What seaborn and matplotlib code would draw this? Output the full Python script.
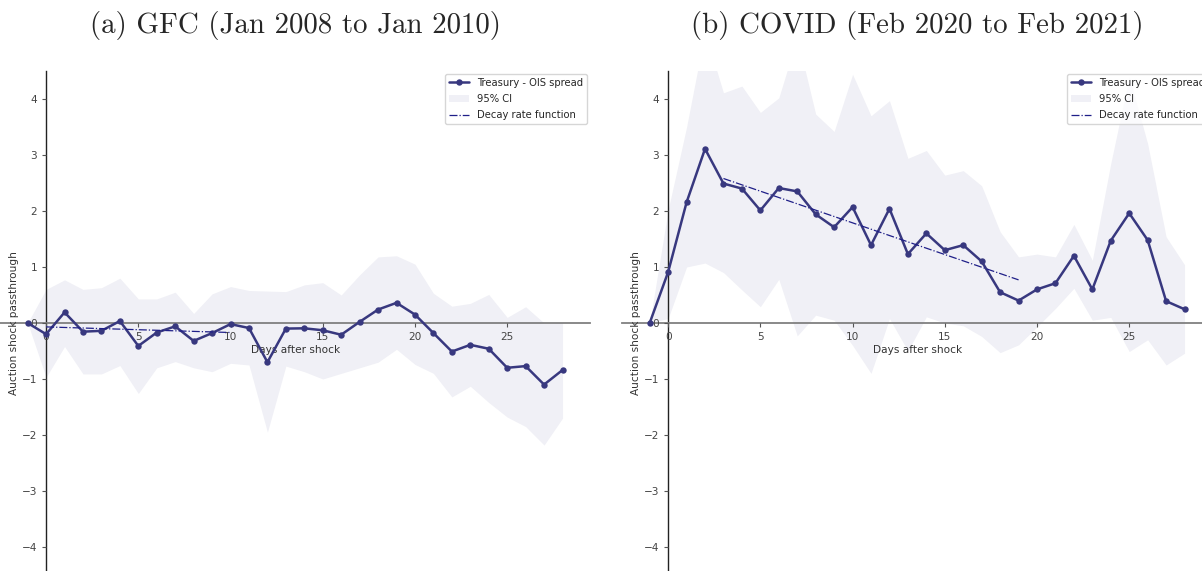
import matplotlib
matplotlib.use("Agg")
import matplotlib.pyplot as plt
import pandas as pd
import seaborn as sns

days = list(range(-1, 29))

gfc_est = [0, -0.20, 0.19, -0.155, -0.14, 0.035, -0.41, -0.17, -0.06, -0.32,
           -0.18, -0.02, -0.09, -0.70, -0.10, -0.095, -0.13, -0.21, 0.02, 0.24,
           0.36, 0.15, -0.18, -0.51, -0.39, -0.46, -0.80, -0.77, -1.10, -0.84]
gfc_upper = [0, 0.60, 0.77, 0.60, 0.63, 0.80, 0.43, 0.43, 0.55, 0.17,
             0.52, 0.65, 0.58, 0.57, 0.56, 0.68, 0.72, 0.50, 0.86, 1.18,
             1.20, 1.05, 0.53, 0.30, 0.35, 0.51, 0.10, 0.29, 0.0, 0.01]
gfc_lower = [0, -0.97, -0.42, -0.91, -0.91, -0.76, -1.26, -0.80, -0.69, -0.80,
             -0.87, -0.72, -0.75, -1.95, -0.77, -0.87, -1.00, -0.90, -0.80, -0.70,
             -0.47, -0.74, -0.90, -1.32, -1.13, -1.42, -1.68, -1.85, -2.18, -1.70]
gfc_decay_days = [0, 10]
gfc_decay_vals = [-0.07, -0.17]

covid_est = [0, 0.91, 2.155, 3.11, 2.49, 2.40, 2.01, 2.41, 2.35, 1.94,
             1.71, 2.07, 1.39, 2.04, 1.23, 1.60, 1.30, 1.39, 1.10, 0.55,
             0.40, 0.60, 0.71, 1.20, 0.60, 1.47, 1.96, 1.48, 0.39, 0.245]
covid_upper = [0, 2.02, 3.5, 5.2, 4.11, 4.23, 3.76, 4.02, 5.1, 3.73,
               3.42, 4.44, 3.70, 3.97, 2.94, 3.08, 2.64, 2.72, 2.45, 1.63,
               1.18, 1.23, 1.18, 1.76, 1.12, 2.85, 4.4, 3.2, 1.54, 1.04]
covid_lower = [0, 0.08, 1.0, 1.07, 0.90, 0.59, 0.29, 0.78, -0.23, 0.14,
               0.05, -0.40, -0.90, 0.08, -0.50, 0.11, 0.0, -0.05, -0.24, -0.53,
               -0.39, -0.07, 0.26, 0.62, 0.05, 0.10, -0.51, -0.30, -0.75, -0.54]
covid_decay_days = [3, 19]
covid_decay_vals = [2.58, 0.77]

titles = ["(a) GFC (Jan 2008 to Jan 2010)", "(b) COVID (Feb 2020 to Feb 2021)"]
xticks = [0, 5, 10, 15, 20, 25]
yticks = [-4, -3, -2, -1, 0, 1, 2, 3, 4]

sns.set_theme(style="ticks")
plt.rcParams['font.family'] = ['DejaVu Sans']

LINE = "#38387f"
FILL = "#f0f0f6"
DECAY = "#1f1f88"

fig = plt.figure(figsize=(12.02, 5.71), dpi=100)
axes = [fig.add_axes([0.0, -0.007, 0.491, 0.8827]),
        fig.add_axes([0.5175, -0.007, 0.491, 0.8827])]

panels = [(gfc_est, gfc_upper, gfc_lower, gfc_decay_days, gfc_decay_vals),
          (covid_est, covid_upper, covid_lower, covid_decay_days, covid_decay_vals)]

for ax, (est, up, lo, dd, dv), title in zip(axes, panels, titles):
    df = pd.DataFrame({"day": days, "est": est, "up": up, "lo": lo})
    dec = pd.DataFrame({"day": dd, "val": dv})
    ax.fill_between(df["day"], df["lo"], df["up"], color=FILL, lw=0,
                    label="95% CI", zorder=0.3)
    sns.lineplot(data=df, x="day", y="est", ax=ax, color=LINE, lw=1.8,
                 marker="o", markersize=4.6, markeredgewidth=0,
                 label="Treasury - OIS spread", zorder=3)
    sns.lineplot(data=dec, x="day", y="val", ax=ax, color=DECAY, lw=0.9,
                 linestyle="-.", label="Decay rate function", zorder=4)
    ax.set_axisbelow(False)
    ax.set_xlim(-2.5, 29.5)
    ax.set_ylim(-4.5, 4.5)
    ax.set_xticks(xticks)
    ax.set_yticks(yticks)
    ax.spines['left'].set_position(('data', 0))
    ax.spines['bottom'].set_position(('data', 0))
    ax.spines['top'].set_visible(False)
    ax.spines['right'].set_visible(False)
    ax.spines['left'].set_color('#222222')
    ax.spines['left'].set_linewidth(1.0)
    ax.spines['bottom'].set_color('#808080')
    ax.spines['bottom'].set_linewidth(1.3)
    ax.spines['left'].set_zorder(2)
    ax.spines['bottom'].set_zorder(2)
    ax.tick_params(labelsize=7.6, labelcolor='#444444', length=3, width=0.8, colors='#555555')
    ax.set_xlabel("Days after shock", fontsize=7.6, color='#333333', labelpad=2)
    ax.set_ylabel("Auction shock passthrough", fontsize=7.6, color='#333333')
    ax.yaxis.set_label_coords(0.032, 0.5)
    h, l = ax.get_legend_handles_labels()
    order = [l.index("Treasury - OIS spread"), l.index("95% CI"), l.index("Decay rate function")]
    leg = ax.legend([h[i] for i in order], [l[i] for i in order], loc="upper right",
                    fontsize=7.2, frameon=True, borderaxespad=0.3, labelspacing=0.62,
                    handlelength=2.0)
    leg.set_zorder(5)
    bb = ax.get_position()
    fig.text((bb.x0 + bb.x1) / 2, 1 - 25 / 571, title, ha="center", va="center",
             fontsize=20.8, family="cmr10")

fig.savefig("out.png", dpi=100)
